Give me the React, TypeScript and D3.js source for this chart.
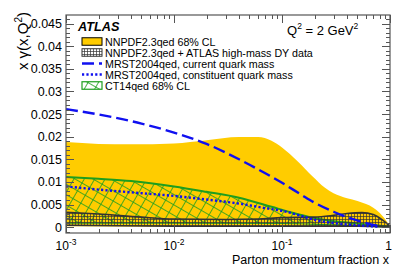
import { useRef, useEffect } from 'react'
import * as d3 from 'd3'

type Pt = [number, number]

// NNPDF2.3qed 68% CL band (yellow)
const nnpdfUpper: Pt[] = [
  [0.001, 0.0188], [0.002, 0.0184], [0.004, 0.0183], [0.01, 0.0185], [0.02, 0.0192],
  [0.04, 0.0199], [0.06, 0.0199], [0.08, 0.0191], [0.1, 0.0176], [0.14, 0.0145],
  [0.19, 0.0113], [0.25, 0.0087], [0.3, 0.0075], [0.4, 0.0064], [0.5, 0.0058],
  [0.6, 0.0051], [0.7, 0.0043], [0.8, 0.0032], [0.9, 0.0018], [1.0, 0.0002],
]
const nnpdfLower: Pt[] = [
  [0.001, 0.0002], [0.01, 0.0001], [0.1, 0.0001], [0.5, 0.0001], [1.0, 0.0],
]

// NNPDF2.3qed + ATLAS high-mass DY data (grey hatched)
const atlasUpper: Pt[] = [
  [0.001, 0.0033], [0.002, 0.0029], [0.005, 0.0022], [0.01, 0.0018], [0.03, 0.0017],
  [0.06, 0.0018], [0.1, 0.0021], [0.2, 0.0022], [0.3, 0.0026], [0.4, 0.003],
  [0.55, 0.0032], [0.7, 0.0028], [0.85, 0.0016], [1.0, 0.0002],
]
const atlasLower: Pt[] = [
  [0.001, 0.0004], [0.01, 0.0002], [0.1, 0.0002], [0.5, 0.0002], [1.0, 0.0],
]

// MRST2004qed, current quark mass
const mrstCurrent: Pt[] = [
  [0.001, 0.0261], [0.002, 0.0249], [0.005, 0.0229], [0.01, 0.0209], [0.02, 0.0184],
  [0.04, 0.015], [0.07, 0.0119], [0.1, 0.0098], [0.15, 0.0072], [0.2, 0.0054],
  [0.3, 0.0034], [0.4, 0.0022], [0.6, 0.0009], [0.8, 0.0002],
]

// MRST2004qed, constituent quark mass
const mrstConstituent: Pt[] = [
  [0.001, 0.009], [0.002, 0.0083], [0.005, 0.0075], [0.01, 0.0069], [0.02, 0.0061],
  [0.04, 0.0052], [0.07, 0.0042], [0.1, 0.0036], [0.15, 0.0025], [0.2, 0.0016],
  [0.3, 0.0009], [0.5, 0.0004], [0.8, 0.0001],
]

// CT14qed 68% CL (green hatched)
const ctUpper: Pt[] = [
  [0.001, 0.0111], [0.002, 0.0107], [0.004, 0.0102], [0.01, 0.009], [0.02, 0.0078],
  [0.04, 0.0065], [0.08, 0.0045], [0.12, 0.0033], [0.2, 0.002], [0.3, 0.0013],
  [0.5, 0.0008], [0.8, 0.0003], [1.0, 0.0001],
]
const ctLower: Pt[] = [
  [0.001, 0.0009], [0.01, 0.0009], [0.1, 0.0008], [0.3, 0.0005], [1.0, 0.0],
]

const yTicks = [0, 0.005, 0.01, 0.015, 0.02, 0.025, 0.03, 0.035, 0.04, 0.045]
const yTickLabels = ['0', '0.005', '0.01', '0.015', '0.02', '0.025', '0.03', '0.035', '0.04', '0.045']
const xDecades = [0.001, 0.01, 0.1, 1]
const xDecadeExp = ['-3', '-2', '-1', '']

const legendLabels = [
  'NNPDF2.3qed 68% CL',
  'NNPDF2.3qed + ATLAS high-mass DY data',
  'MRST2004qed, current quark mass',
  'MRST2004qed, constituent quark mass',
  'CT14qed 68% CL',
]

const YELLOW = '#ffcc00'
const GREEN = '#1e9e1e'
const BLUE = '#1010f0'
const FRAME = '#555'
const FONT = '"Liberation Sans", Arial, Helvetica, sans-serif'

export default function App() {
  const svgRef = useRef<SVGSVGElement | null>(null)

  useEffect(() => {
    if (!svgRef.current) return
    const width = 411
    const height = 280
    const left = 66, right = 390, top = 15, bottom = 233

    const svg = d3.select(svgRef.current)
    svg.selectAll('*').remove()
    svg.attr('width', width).attr('height', height)

    const x = d3.scaleLog().domain([0.001, 1]).range([left, right])
    const y = d3.scaleLinear().domain([-0.0013, 0.0469]).range([bottom, top])

    const defs = svg.append('defs')
    const grey = defs.append('pattern').attr('id', 'greyHatch')
      .attr('patternUnits', 'userSpaceOnUse').attr('width', 3).attr('height', 3)
    grey.append('path').attr('d', 'M0,0.5H3M0.5,0V3').attr('stroke', '#333').attr('stroke-width', 0.7)
    const green = defs.append('pattern').attr('id', 'greenHatch')
      .attr('patternUnits', 'userSpaceOnUse').attr('width', 9).attr('height', 9)
      .attr('patternTransform', 'rotate(30)')
    green.append('path').attr('d', 'M0,0.5H9M0.5,0V9').attr('stroke', GREEN).attr('stroke-width', 0.8)

    defs.append('clipPath').attr('id', 'plotClip')
      .append('rect').attr('x', left).attr('y', top).attr('width', right - left).attr('height', bottom - top)

    const line = d3.line<Pt>().x((d) => x(d[0])).y((d) => y(d[1])).curve(d3.curveMonotoneX)
    const band = (up: Pt[], lo: Pt[]) => {
      const a = line(up) || ''
      const b = (line([...lo].reverse()) || '').replace(/^M/, 'L')
      return a + b + 'Z'
    }

    const plot = svg.append('g').attr('clip-path', 'url(#plotClip)')

    // yellow band
    plot.append('path').attr('d', band(nnpdfUpper, nnpdfLower)).attr('fill', YELLOW)

    // CT14qed hatched band
    plot.append('path').attr('d', band(ctUpper, ctLower)).attr('fill', 'url(#greenHatch)')
    plot.append('path').attr('d', line(ctUpper)).attr('fill', 'none').attr('stroke', GREEN).attr('stroke-width', 2)
    plot.append('path').attr('d', line(ctLower)).attr('fill', 'none').attr('stroke', GREEN).attr('stroke-width', 1.2)

    // ATLAS grey hatched band
    plot.append('path').attr('d', band(atlasUpper, atlasLower)).attr('fill', 'url(#greyHatch)')
    plot.append('path').attr('d', line(atlasUpper)).attr('fill', 'none').attr('stroke', '#333').attr('stroke-width', 1.6)
    plot.append('path').attr('d', line(atlasLower)).attr('fill', 'none').attr('stroke', '#333').attr('stroke-width', 1.6)

    // MRST lines
    plot.append('path').attr('d', line(mrstConstituent)).attr('fill', 'none')
      .attr('stroke', BLUE).attr('stroke-width', 2.4).attr('stroke-dasharray', '2.2,2.2')
    plot.append('path').attr('d', line(mrstCurrent)).attr('fill', 'none')
      .attr('stroke', BLUE).attr('stroke-width', 2.4).attr('stroke-dasharray', '12,5')

    // frame
    svg.append('rect').attr('x', left).attr('y', top).attr('width', right - left).attr('height', bottom - top)
      .attr('fill', 'none').attr('stroke', FRAME).attr('stroke-width', 1.2)

    const ticks = svg.append('g').attr('stroke', FRAME).attr('stroke-width', 1)
    // y ticks: minors every 0.001
    d3.range(-1, 47).forEach((i) => {
      const v = i * 0.001
      const major = i % 5 === 0
      const len = major ? 8 : 4
      const py = Math.round(y(v)) + 0.5
      if (py < top || py > bottom) return
      ticks.append('line').attr('x1', left).attr('x2', left + len).attr('y1', py).attr('y2', py)
      ticks.append('line').attr('x1', right).attr('x2', right - len).attr('y1', py).attr('y2', py)
    })
    // x ticks: log minors
    xDecades.forEach((d, di) => {
      const steps = di < 3 ? d3.range(1, 10) : [1]
      steps.forEach((m) => {
        const v = d * m
        const px = Math.round(x(v)) + 0.5
        const len = m === 1 ? 8 : 4
        ticks.append('line').attr('x1', px).attr('x2', px).attr('y1', bottom).attr('y2', bottom - len)
        ticks.append('line').attr('x1', px).attr('x2', px).attr('y1', top).attr('y2', top + len)
      })
    })

    const txt = svg.append('g').attr('font-family', FONT).attr('fill', '#000')

    // y tick labels
    txt.selectAll('.ylab').data(yTicks).join('text')
      .attr('class', 'ylab')
      .attr('x', 62).attr('y', (d) => y(d) + 4.5)
      .attr('text-anchor', 'end').attr('font-size', 12.5)
      .text((_, i) => yTickLabels[i])

    // x tick labels
    xDecades.forEach((d, i) => {
      const t = txt.append('text').attr('x', x(d)).attr('y', 250).attr('font-size', 12)
        .attr('text-anchor', i === 3 ? 'end' : 'middle')
      if (i === 3) {
        t.attr('x', x(d) + 2).text('1')
      } else {
        t.append('tspan').text('10')
        t.append('tspan').attr('font-size', 8.5).attr('dy', -5).text(xDecadeExp[i])
      }
    })

    // axis titles
    txt.append('text').attr('x', 389).attr('y', 264).attr('text-anchor', 'end')
      .attr('font-size', 12.5).text('Parton momentum fraction x')
    const yt = txt.append('text').attr('transform', 'translate(28,12) rotate(-90)')
      .attr('text-anchor', 'end').attr('font-size', 15)
    yt.append('tspan').text('x γ(x,Q')
    yt.append('tspan').attr('font-size', 10).attr('dy', -6).text('2')
    yt.append('tspan').attr('dy', 6).text(')')

    // ATLAS label
    txt.append('text').attr('x', 78).attr('y', 31).attr('font-size', 12.7)
      .attr('font-weight', 'bold').attr('font-style', 'italic').text('ATLAS')

    // Q2 label
    const q = txt.append('text').attr('x', 287).attr('y', 35).attr('font-size', 13)
    q.append('tspan').text('Q')
    q.append('tspan').attr('font-size', 8.5).attr('dy', -6).text('2')
    q.append('tspan').attr('dy', 6).text(' = 2 GeV')
    q.append('tspan').attr('font-size', 8.5).attr('dy', -6).text('2')

    // legend
    const leg = svg.append('g')
    const rowY = (i: number) => 41.5 + i * 11
    const bx = 82, bw = 20, bh = 7.5
    leg.append('rect').attr('x', bx).attr('y', rowY(0) - bh / 2).attr('width', bw).attr('height', bh)
      .attr('fill', YELLOW).attr('stroke', '#000').attr('stroke-width', 1)
    leg.append('rect').attr('x', bx).attr('y', rowY(1) - bh / 2).attr('width', bw).attr('height', bh)
      .attr('fill', 'url(#greyHatch)').attr('stroke', '#333').attr('stroke-width', 1)
    leg.append('line').attr('x1', bx).attr('x2', bx + bw).attr('y1', rowY(2)).attr('y2', rowY(2))
      .attr('stroke', BLUE).attr('stroke-width', 2.4).attr('stroke-dasharray', '12,5')
    leg.append('line').attr('x1', bx).attr('x2', bx + bw).attr('y1', rowY(3)).attr('y2', rowY(3))
      .attr('stroke', BLUE).attr('stroke-width', 2.4).attr('stroke-dasharray', '2.2,2.2')
    leg.append('rect').attr('x', bx).attr('y', rowY(4) - bh / 2).attr('width', bw).attr('height', bh)
      .attr('fill', '#fff').attr('stroke', GREEN).attr('stroke-width', 1.2)
    leg.append('rect').attr('x', bx).attr('y', rowY(4) - bh / 2).attr('width', bw).attr('height', bh)
      .attr('fill', 'url(#greenHatch)')

    leg.selectAll('.legtxt').data(legendLabels).join('text')
      .attr('class', 'legtxt')
      .attr('x', 105).attr('y', (_, i) => rowY(i) + 4)
      .attr('font-family', FONT).attr('font-size', 10.7)
      .text((d) => d)
  }, [])

  return (
    <div style={{ position: 'absolute', left: 0, top: 0 }}>
      <svg ref={svgRef} style={{ display: 'block', background: '#fff' }} />
    </div>
  )
}
